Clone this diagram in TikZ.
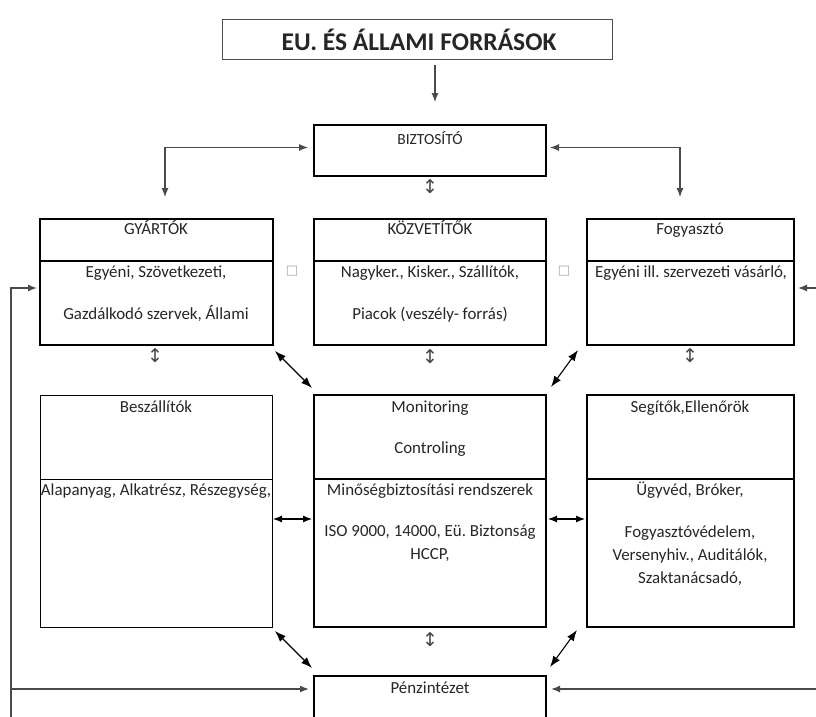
\documentclass[tikz,border=0pt]{standalone}
\usepackage{fontspec}
\setmainfont{Carlito}
\newfontfamily\symfont{DejaVu Sans}
\usetikzlibrary{arrows.meta}
\definecolor{ink}{HTML}{262626}
\definecolor{linec}{HTML}{4A4A4A}
\frenchspacing
\begin{document}
\begin{tikzpicture}[x=1pt,y=-1pt,
  box/.style={draw=black,line width=1.7pt,inner sep=0pt,outer sep=0pt,anchor=north west},
  thinbox/.style={draw=black,line width=1pt,inner sep=0pt,outer sep=0pt,anchor=north west},
  txt/.style={text=ink,inner sep=0pt,font=\fontsize{16.9}{20}\selectfont,text height=14pt,text depth=4pt},
  ud/.style={text=ink!85,inner sep=0pt,font=\symfont\fontsize{19}{20}\selectfont},
  sq/.style={text=black!35,inner sep=0pt,font=\symfont\fontsize{13}{14}\selectfont},
  conn/.style={draw=linec,line width=1.1pt},
  tip/.style={-{Latex[length=9pt,width=7pt]}},
  dtip/.style={{Latex[length=9pt,width=7pt]}-{Latex[length=9pt,width=7pt]}},
  dtipb/.style={{Latex[length=11pt,width=8pt]}-{Latex[length=11pt,width=8pt]}}
]
\useasboundingbox (0,0) rectangle (816,717);
\clip (0,0) rectangle (816,717);
\fill[white] (0,0) rectangle (816,717);

% boxes
\node[draw=black!70,line width=1pt,inner sep=0pt,outer sep=0pt,anchor=north west,minimum width=390pt,minimum height=40pt] (eu) at (222,20) {};
\node[box,minimum width=232pt,minimum height=51pt] (bi) at (314,125) {};
\node[box,minimum width=233pt,minimum height=126pt] (gy) at (40,219) {};
\node[box,minimum width=232pt,minimum height=126pt] (koz) at (314,219) {};
\node[box,minimum width=207pt,minimum height=126pt] (fog) at (587,219) {};
\node[thinbox,minimum width=232pt,minimum height=232pt] (besz) at (40,395) {};
\node[box,minimum width=232pt,minimum height=232pt] (mon) at (314,395) {};
\node[box,minimum width=207pt,minimum height=232pt] (seg) at (587,395) {};
\node[box,minimum width=232pt,minimum height=90pt] (penz) at (314,676) {};

% dividers
\coordinate (r1) at (0,261);
\coordinate (r2) at (0,479);
\draw[line width=1.7pt] (gy.west |- r1) -- (gy.east |- r1);
\draw[line width=1.7pt] (koz.west |- r1) -- (koz.east |- r1);
\draw[line width=1.7pt] (fog.west |- r1) -- (fog.east |- r1);
\draw[line width=1pt] (besz.west |- r2) -- (besz.east |- r2);
\draw[line width=1.7pt] (mon.west |- r2) -- (mon.east |- r2);
\draw[line width=1.7pt] (seg.west |- r2) -- (seg.east |- r2);

% texts
\node[text=ink,inner sep=0pt,font=\bfseries\fontsize{25.5}{28}\selectfont] (t0) at (419,40) {EU. ÉS ÁLLAMI FORRÁSOK};
\node[txt,font=\fontsize{15.5}{18}\selectfont] (t1) at (430,139) {BIZTOSÍTÓ};
\node[txt] (t2) at (156,229) {GYÁRTÓK};
\node[txt] (t3) at (156,272) {Egyéni, Szövetkezeti,};
\node[txt] (t4) at (156,314) {Gazdálkodó szervek, Állami};
\node[txt] (t5) at (430,229) {KÖZVETÍTŐK};
\node[txt] (t6) at (430,272) {Nagyker., Kisker., Szállítók,};
\node[txt] (t7) at (430,314) {Piacok (veszély- forrás)};
\node[txt] (t8) at (690,229) {Fogyasztó};
\node[txt] (t9) at (691,272) {Egyéni ill. szervezeti vásárló,};
\node[txt] (t10) at (156,407) {Beszállítók};
\node[txt] (t11) at (156,490) {Alapanyag, Alkatrész, Részegység,};
\node[txt] (t12) at (430,407) {Monitoring};
\node[txt] (t13) at (430,448) {Controling};
\node[txt] (t14) at (430,490) {Minőségbiztosítási rendszerek};
\node[txt] (t15) at (430,531) {ISO 9000, 14000, Eü. Biztonság};
\node[txt] (t16) at (430,554) {HCCP,};
\node[txt] (t17) at (690,407) {Segítők,Ellenőrök};
\node[txt] (t18) at (690,490) {Ügyvéd, Bróker,};
\node[txt] (t19) at (690,532) {Fogyasztóvédelem,};
\node[txt] (t20) at (690,555) {Versenyhiv., Auditálók,};
\node[txt] (t21) at (690,578) {Szaktanácsadó,};
\node[txt] (t22) at (430,688) {Pénzintézet};

% small symbols
\node[ud] (u1) at (430,187) {↕};
\node[ud] (u2) at (155,356) {↕};
\node[ud] (u3) at (430,357) {↕};
\node[ud] (u4) at (690,356) {↕};
\node[ud] (u5) at (430,640) {↕};
\node[sq] (s1) at (292,271) {□};
\node[sq] (s2) at (564,271) {□};

% connectors
\coordinate (ax) at (435,0);
\draw[conn,tip,shorten <=5pt,shorten >=23pt] (eu.south -| ax) -- (bi.north -| ax);

\coordinate (lx) at (165,0);
\coordinate (rx) at (680,0);
\draw[conn,dtip,shorten <=22pt,shorten >=6pt] (gy.north -| lx) |- ([yshift=3pt]bi.west);
\draw[conn,dtip,shorten <=22pt,shorten >=4pt] (fog.north -| rx) |- ([yshift=3pt]bi.east);

\coordinate (d1a) at (275,351);
\coordinate (d1b) at (312,388);
\draw[draw=black,line width=1.1pt,dtipb] (d1a) -- (d1b);
\coordinate (d2a) at (578,350);
\coordinate (d2b) at (551,387);
\draw[draw=black,line width=1.1pt,dtipb] (d2a) -- (d2b);
\coordinate (d3a) at (275,631);
\coordinate (d3b) at (312,668);
\draw[draw=black,line width=1.1pt,dtipb] (d3a) -- (d3b);
\coordinate (d4a) at (577,630);
\coordinate (d4b) at (550,667);
\draw[draw=black,line width=1.1pt,dtipb] (d4a) -- (d4b);

\coordinate (hy) at (0,519);
\draw[draw=black,line width=1.1pt,dtip,shorten <=1pt,shorten >=2pt] (besz.east |- hy) -- (mon.west |- hy);
\draw[draw=black,line width=1.1pt,dtip,shorten <=2pt,shorten >=2pt] (mon.east |- hy) -- (seg.west |- hy);

% feedback lines
\coordinate (fl0) at (11,730);
\coordinate (fl1) at (11,288);
\coordinate (fl2) at (11,689);
\coordinate (fr1) at (820,288);
\coordinate (fr2) at (820,689);
\draw[conn,line width=1.4pt,tip,shorten >=3pt] (fl0) -- (fl1) -- (gy.west |- fl1);
\draw[conn,line width=1.4pt,tip,shorten >=5pt] (fl2) -- (penz.west |- fl2);
\draw[conn,line width=1.4pt,tip,shorten >=4pt] (fr1) -- (fog.east |- fr1);
\draw[conn,line width=1.4pt,tip,shorten >=5pt] (fr2) -- (penz.east |- fr2);
\end{tikzpicture}
\end{document}
